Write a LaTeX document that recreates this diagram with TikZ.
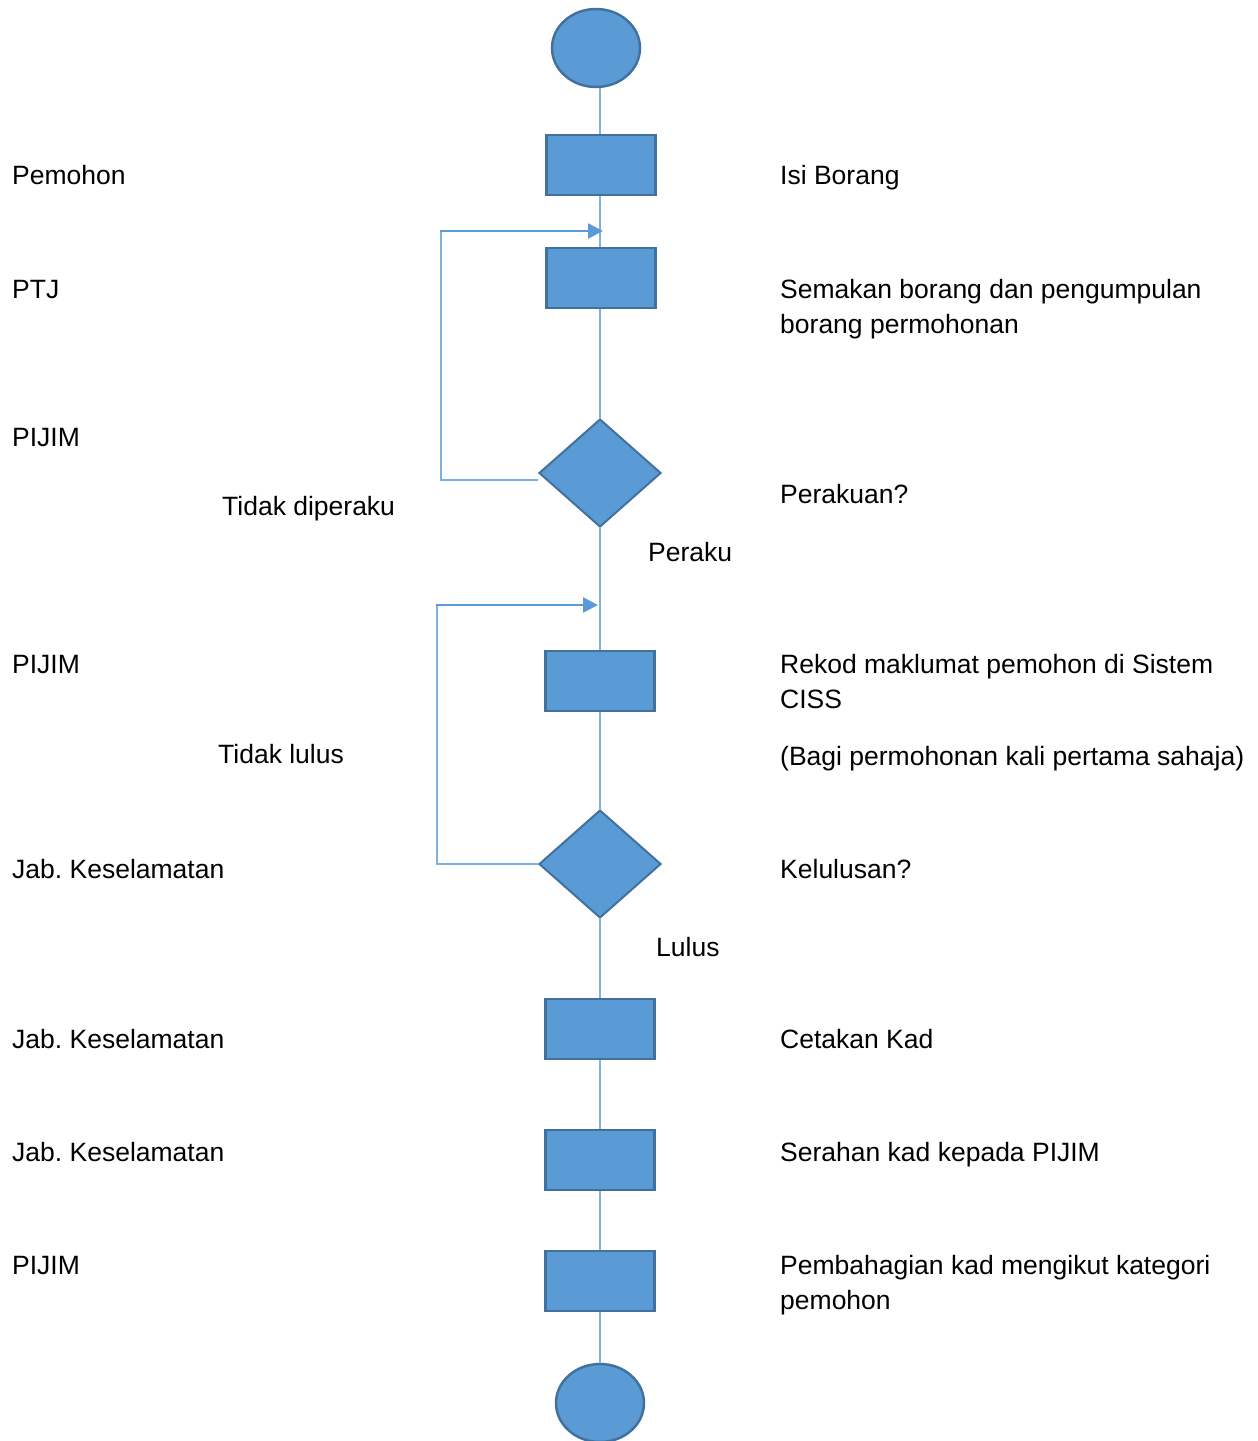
\documentclass[tikz,border=0pt]{standalone}
\usepackage{fontspec}
\setmainfont{Liberation Sans}
\usetikzlibrary{shapes.geometric,arrows.meta}
\definecolor{boxfill}{HTML}{5B9BD5}
\definecolor{boxline}{HTML}{41719C}
\definecolor{flowline}{HTML}{7EB1DF}
\frenchspacing

\begin{document}
\begin{tikzpicture}[x = 1pt, y = -1pt,
  terminal/.style = {ellipse, draw = boxline, fill = boxfill, line width = 2.5pt, minimum width = 88pt, minimum height = 78pt, inner sep = 0pt},
  process/.style = {rectangle, draw = boxline, fill = boxfill, line width = 2.5pt, minimum width = 109pt, minimum height = 60pt, inner sep = 0pt},
  decision/.style = {diamond, draw = boxline, fill = boxfill, line width = 2pt, minimum width = 122pt, minimum height = 108pt, inner sep = 0pt},
  flow/.style = {draw = flowline, line width = 2pt},
  back/.style = {draw = boxfill, line width = 2.5pt, -{Triangle[length = 15pt, width = 15pt]}},
  txt/.style = {anchor = base west, inner sep = 0pt, align = left, font = \fontsize{26.5}{35}\selectfont}]
\useasboundingbox (0, 0) rectangle (1258, 1441);
% Shapes
\node[terminal] (mula) at (596, 48) {};
\node[process] (isi) at (601, 165) {};
\node[process] (semak) at (601, 278) {};
\node[decision] (perakuan) at (600, 473) {};
\node[process] (rekod) at (600, 681) {};
\node[decision] (lulus) at (600, 864) {};
\node[process] (cetak) at (600, 1029) {};
\node[process] (serah) at (600, 1160) {};
\node[process] (bahagi) at (600, 1281) {};
\node[terminal] (tamat) at (600, 1403) {};
\coordinate (masuk1) at (603, 231);
\coordinate (masuk2) at (598, 605);
% Main flow
\draw[flow] (perakuan.north |- mula.south) -- (perakuan.north |- isi.north);
\draw[flow] (perakuan.north |- isi.south) -- (perakuan.north |- semak.north);
\draw[flow] (perakuan.north |- semak.south) -- (perakuan);
\draw[flow] (perakuan) -- (rekod);
\draw[flow] (rekod) -- (lulus);
\draw[flow] (lulus) -- (cetak);
\draw[flow] (cetak) -- (serah);
\draw[flow] (serah) -- (bahagi);
\draw[flow] (bahagi) -- (tamat);
% Loops back
\draw[flow] ([yshift = -7pt]perakuan.west) -- ++(-97, 0) coordinate (sudut1) -- (sudut1 |- masuk1);
\draw[back] ([xshift = -1pt]sudut1 |- masuk1) -- (masuk1);
\draw[flow] (lulus.west) -- ++(-101, 0) coordinate (sudut2) -- (sudut2 |- masuk2);
\draw[back] ([xshift = -1pt]sudut2 |- masuk2) -- (masuk2);
% Roles
\node[txt] (peranan1) at (12, 184) {Pemohon};
\node[txt] (peranan2) at (12, 298) {PTJ};
\node[txt] (peranan3) at (12, 446) {PIJIM};
\node[txt] (peranan4) at (12, 673) {PIJIM};
\node[txt] (peranan5) at (12, 878) {Jab. Keselamatan};
\node[txt] (peranan6) at (12, 1048) {Jab. Keselamatan};
\node[txt] (peranan7) at (12, 1161) {Jab. Keselamatan};
\node[txt] (peranan8) at (12, 1274) {PIJIM};
% Branch labels
\node[txt] (tidakperaku) at (222, 515) {Tidak diperaku};
\node[txt] (peraku) at (648, 561) {Peraku};
\node[txt] (tidaklulus) at (218, 763) {Tidak lulus};
\node[txt] (lulustxt) at (656, 956) {Lulus};
% Steps (multi-line: base is the last line)
\node[txt] (langkah1) at (780, 184) {Isi Borang};
\node[txt] (langkah2) at (780, 333) {Semakan borang dan pengumpulan\\borang permohonan};
\node[txt] (langkah3) at (780, 503) {Perakuan?};
\node[txt] (langkah4) at (780, 708) {Rekod maklumat pemohon di Sistem\\CISS};
\node[txt] (nota) at (780, 765) {(Bagi permohonan kali pertama sahaja)};
\node[txt] (langkah5) at (780, 878) {Kelulusan?};
\node[txt] (langkah6) at (780, 1048) {Cetakan Kad};
\node[txt] (langkah7) at (780, 1161) {Serahan kad kepada PIJIM};
\node[txt] (langkah8) at (780, 1309) {Pembahagian kad mengikut kategori\\pemohon};
\end{tikzpicture}
\end{document}
